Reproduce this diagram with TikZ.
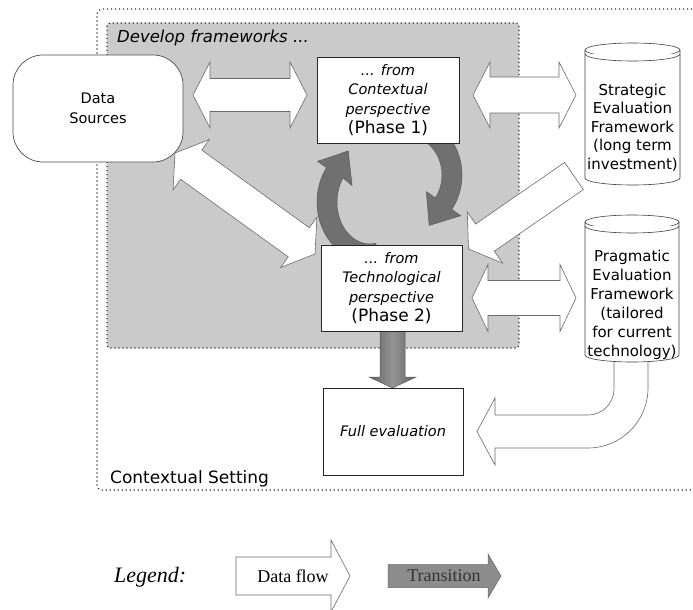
\documentclass[tikz,border=0pt]{standalone}
\usepackage{fontspec}
\setmainfont{DejaVu Sans}
\newfontfamily\legendfont{Liberation Serif}
\usetikzlibrary{calc}

\newcommand\sz[2]{\fontsize{#1}{#2}\selectfont}

% double-headed block arrow between two tips:
% #1,#2 tips, #3 shaft half-width, #4 head half-width, #5 head length, #6 style
\newcommand\blocktwo[6]{%
  \path[#6] (#1) -- ($(#1)!#5!(#2)!#4!90:(#2)$) -- ($(#1)!#5!(#2)!#3!90:(#2)$)
    -- ($(#2)!#5!(#1)!#3!-90:(#1)$) -- ($(#2)!#5!(#1)!#4!-90:(#1)$) -- (#2)
    -- ($(#2)!#5!(#1)!#4!90:(#1)$) -- ($(#2)!#5!(#1)!#3!90:(#1)$)
    -- ($(#1)!#5!(#2)!#3!-90:(#2)$) -- ($(#1)!#5!(#2)!#4!-90:(#2)$) -- cycle;}

% single block arrow: #1 tail, #2 tip, same size arguments
\newcommand\blockone[6]{%
  \path[#6] ($(#1)!#3!-90:(#2)$) -- ($(#2)!#5!(#1)!#3!90:(#1)$)
    -- ($(#2)!#5!(#1)!#4!90:(#1)$) -- (#2) -- ($(#2)!#5!(#1)!#4!-90:(#1)$)
    -- ($(#2)!#5!(#1)!#3!-90:(#1)$) -- ($(#1)!#3!90:(#2)$) -- cycle;}

% upright drum: #1 left x, #2 right x, #3 top centre y, #4 bottom centre y
\newcommand\drum[4]{%
  \pgfmathsetmacro\drx{(#2-#1)/2}
  \filldraw[drumline] (#1,#3) -- (#1,#4) arc[start angle=180,end angle=360,x radius=\drx pt,y radius=7pt]
    -- (#2,#3) arc[start angle=0,end angle=180,x radius=\drx pt,y radius=7pt] -- cycle;
  \draw[drumline] (#1,#3) arc[start angle=180,end angle=360,x radius=\drx pt,y radius=7pt];
  \draw[drumline] (#1,#3+4) arc[start angle=180,end angle=360,x radius=\drx pt,y radius=7pt];}

\definecolor{panelgray}{RGB}{202,202,202}
\definecolor{darkarrow}{RGB}{112,112,112}

\tikzset{
  flow/.style={fill=white, draw=black!58, line width=0.6pt, line join=miter},
  trans/.style={fill=darkarrow, draw=black!65, line width=0.5pt},
  transdown/.style={left color=black!62, right color=black!62, middle color=black!42, draw=black!65, line width=0.5pt},
  box/.style={draw=black!85, fill=white, line width=0.7pt, inner sep=0pt, align=center},
  drumline/.style={draw=black!75, fill=white, line width=0.6pt},
  frameline/.style={draw=black!80, line width=1.2pt, dash pattern=on 1.2pt off 2.8pt, line cap=butt},
  label/.style={inner sep=0pt, align=center}
}

\begin{document}
\begin{tikzpicture}[x=1pt,y=-1pt]
\useasboundingbox (0,0) rectangle (693,610);
\clip (0,0) rectangle (693,610);
\fill[white] (0,0) rectangle (693,610);

% outer setting, open to the right
\draw[frameline, rounded corners=5pt] (720,9) -- (97,9) -- (97,490) -- (720,490);

% framework development panel
\fill[panelgray, rounded corners=3pt] (107,23) rectangle (519,348);
\draw[frameline, rounded corners=3pt] (107,23) rectangle (519,348);

% transitions between the two phases
\fill[trans] plot[domain=80:215, samples=60, variable=\t] ({370+53*cos(\t)},{202+60*sin(\t)})
  -- (317.6,161.3) -- (348.2,151) -- (352,185.4)
  -- plot[domain=215:80, samples=60, variable=\t] ({370+33*cos(\t)},{202+42*sin(\t)}) -- cycle;
\fill[trans] plot[domain=-80:35, samples=60, variable=\t] ({405+57*cos(\t)},{175+60*sin(\t)})
  -- (460.7,215.7) -- (429.2,225.4) -- (426.3,191.6)
  -- plot[domain=35:-80, samples=60, variable=\t] ({405+37*cos(\t)},{175+40*sin(\t)}) -- cycle;

% data flows
\coordinate (dsR) at (193,95);   \coordinate (pAL) at (307,95);
\coordinate (pAR) at (473,95);   \coordinate (stL) at (576,95);
\coordinate (dsD) at (175,153);  \coordinate (pBU) at (315,254);
\coordinate (stD) at (574,176);  \coordinate (pBR) at (468.5,249);
\coordinate (pBE) at (472,298);  \coordinate (prL) at (576,298);
\blocktwo{dsR}{pAL}{16.5pt}{33pt}{17pt}{flow}
\blocktwo{pAR}{stL}{18pt}{33pt}{17pt}{flow}
\blocktwo{dsD}{pBU}{18pt}{31pt}{20pt}{flow}
\blockone{stD}{pBR}{16.5pt}{31pt}{20pt}{flow}
\blocktwo{pBE}{prL}{17.5pt}{33.5pt}{16pt}{flow}

% phase 2 to full evaluation
\coordinate (pBS) at (392.5,331);
\coordinate (feN) at (392.5,388);
\blockone{pBS}{feN}{12.5pt}{23.5pt}{11pt}{transdown}

% pragmatic framework feeding the full evaluation
\path[flow] (614,352) -- (614,389) arc[start angle=0,end angle=-90,radius=26pt]
  -- (495,415) -- (495,398) -- (477,431.5) -- (495,465) -- (495,448)
  -- (588,448) arc[start angle=-90,end angle=0,radius=60pt] -- (648,352) -- cycle;

% frameworks as drums
\drum{585}{680}{50}{178}
\drum{585}{679}{222}{355}

% nodes
\node[draw=black!70, fill=white, line width=0.7pt, rounded corners=30pt,
      minimum width=170pt, minimum height=107pt, align=center, font=\sz{14.5}{20}] (ds) at (98,108.5) {Data\\Sources};
\node[box, minimum width=142pt, minimum height=86pt, font=\sz{14.5}{19.3}] (p1) at (388,100)
  {{\itshape ... from}\\{\itshape Contextual}\\{\itshape perspective}\\{\sz{17}{19.3}(Phase 1)}};
\node[box, minimum width=141pt, minimum height=86pt, font=\sz{14.5}{19.3}] (p2) at (391.5,288)
  {{\itshape ... from}\\{\itshape Technological}\\{\itshape perspective}\\{\sz{17}{19.3}(Phase 2)}};
\node[box, minimum width=140pt, minimum height=87pt, font=\sz{14.5}{18}\itshape] (fe) at (393,431.5) {Full evaluation};
\node[label, font=\sz{15}{18.6}] (strat) at (632.5,127.5)
  {Strategic\\Evaluation\\Framework\\(long term\\investment)};
\node[label, font=\sz{15}{19}] (prag) at (632,304.5)
  {Pragmatic\\Evaluation\\Framework\\(tailored\\for current\\technology)};
\node[label, anchor=base west, font=\sz{16.5}{20}\itshape] (dev) at (117,43) {Develop frameworks ...};
\node[label, anchor=base west, font=\sz{17}{20}] (cs) at (110,483) {Contextual Setting};

% legend
\node[label, anchor=base west, font=\legendfont\itshape\sz{22}{26}] (lgd) at (114,582) {Legend:};
\coordinate (lfA) at (236,576); \coordinate (lfB) at (350,576);
\blockone{lfA}{lfB}{19pt}{36pt}{19pt}{flow}
\node[label, font=\legendfont\sz{18}{22}] (lflow) at (293,576) {Data flow};
\coordinate (ltA) at (388,576); \coordinate (ltB) at (501,576);
\blockone{ltA}{ltB}{11.5pt}{22pt}{13pt}{fill=black!45, draw=black!60, line width=0.5pt}
\node[label, font=\legendfont\sz{18}{22}, text=black!80] (ltrans) at (444,576) {Transition};
\end{tikzpicture}
\end{document}
